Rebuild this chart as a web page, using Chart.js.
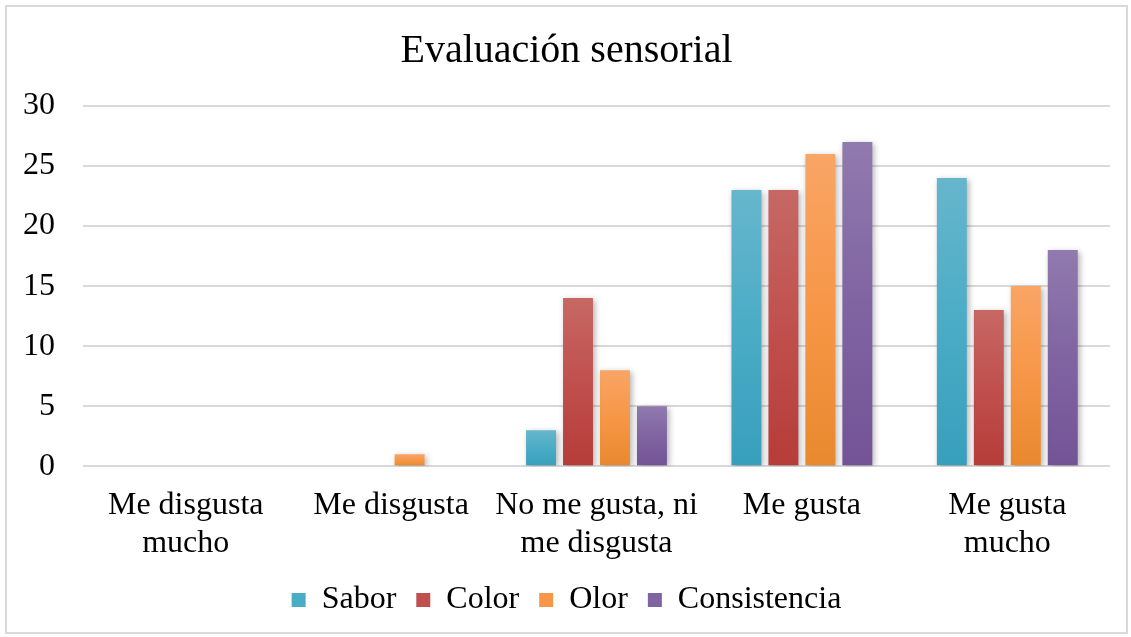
<!DOCTYPE html>
<html>
<head>
<meta charset="utf-8">
<script src="https://cdn.jsdelivr.net/npm/chart.js@4"></script>
<style>
  body { margin: 0; background: #fff; }
  #wrap {
    position: absolute;
    left: 5px;
    top: 5px;
    width: 1119px;
    height: 625px;
    border: 2px solid #d9d9d9;
    background: #fff;
  }
</style>
</head>
<body>
<div id="wrap"><canvas id="chart"></canvas></div>
<script>
// categories and series
const categories = [
  ['Me disgusta', 'mucho'],
  'Me disgusta',
  ['No me gusta, ni', 'me disgusta'],
  'Me gusta',
  ['Me gusta', 'mucho']
]
const sabor = [0, 0, 3, 23, 24]
const color = [0, 0, 14, 23, 13]
const olor = [0, 1, 8, 26, 15]
const consistencia = [0, 0, 5, 27, 18]
const yTicks = [0, 5, 10, 15, 20, 25, 30]

const FONT = '"Liberation Serif", "Times New Roman", serif'

/**
 * Builds a per-bar vertical gradient, light on top and darker at the base.
 */
const barGradient = (top, mid, bottom) => (ctx) => {
  const chart = ctx.chart
  if (ctx.type !== 'data' || !chart.chartArea) return mid
  const y = chart.scales.y
  const yTop = y.getPixelForValue(ctx.raw)
  const yBase = y.getPixelForValue(0)
  if (Math.abs(yBase - yTop) < 1) return mid
  const g = chart.ctx.createLinearGradient(0, yTop, 0, yBase)
  g.addColorStop(0, top)
  g.addColorStop(0.5, mid)
  g.addColorStop(1, bottom)
  return g
}

// soft drop shadow behind the bars
const barShadow = {
  id: 'barShadow',
  beforeDatasetsDraw (chart) {
    const c = chart.ctx
    c.save()
    c.shadowColor = 'rgba(0, 0, 0, 0.3)'
    c.shadowBlur = 6
    c.shadowOffsetX = 2
    c.shadowOffsetY = 2
  },
  afterDatasetsDraw (chart) {
    chart.ctx.restore()
  }
}

new Chart(document.getElementById('chart'), {
  type: 'bar',
  data: {
    labels: categories,
    datasets: [
      { label: 'Sabor', data: sabor, backgroundColor: barGradient('#66b6cc', '#4bacc6', '#379fbc') },
      { label: 'Color', data: color, backgroundColor: barGradient('#c66864', '#c0504d', '#b53c39') },
      { label: 'Olor', data: olor, backgroundColor: barGradient('#f9a566', '#f79646', '#e8892e') },
      { label: 'Consistencia', data: consistencia, backgroundColor: barGradient('#907aae', '#8064a2', '#735396') }
    ]
  },
  options: {
    responsive: true,
    maintainAspectRatio: false,
    animation: false,
    categoryPercentage: 0.72,
    barPercentage: 0.81,
    layout: { autoPadding: false, padding: { left: 16, right: 16, top: 0, bottom: 6 } },
    plugins: {
      title: {
        display: true,
        text: 'Evaluación sensorial',
        color: '#000',
        font: { family: FONT, size: 40, weight: 'normal' },
        padding: { top: 20, bottom: 31 }
      },
      legend: {
        position: 'bottom',
        labels: {
          color: '#000',
          font: { family: FONT, size: 32 },
          boxWidth: 14,
          boxHeight: 14,
          padding: 20
        }
      },
      tooltip: { enabled: false }
    },
    scales: {
      x: {
        grid: { display: false },
        border: { display: false },
        afterFit: (axis) => {
          axis.height -= 11
        },
        ticks: {
          color: '#000',
          font: { family: FONT, size: 32 },
          maxRotation: 0,
          autoSkip: false,
          padding: 12
        }
      },
      y: {
        min: 0,
        max: 30,
        afterBuildTicks: (axis) => {
          axis.ticks = yTicks.map((v) => ({ value: v }))
        },
        afterFit: (axis) => {
          axis.width = 60
        },
        grid: { color: '#d9d9d9', lineWidth: 2, drawTicks: false },
        border: { display: false },
        ticks: {
          color: '#000',
          font: { family: FONT, size: 32 },
          padding: 28
        }
      }
    }
  },
  plugins: [barShadow]
})
</script>
</body>
</html>
